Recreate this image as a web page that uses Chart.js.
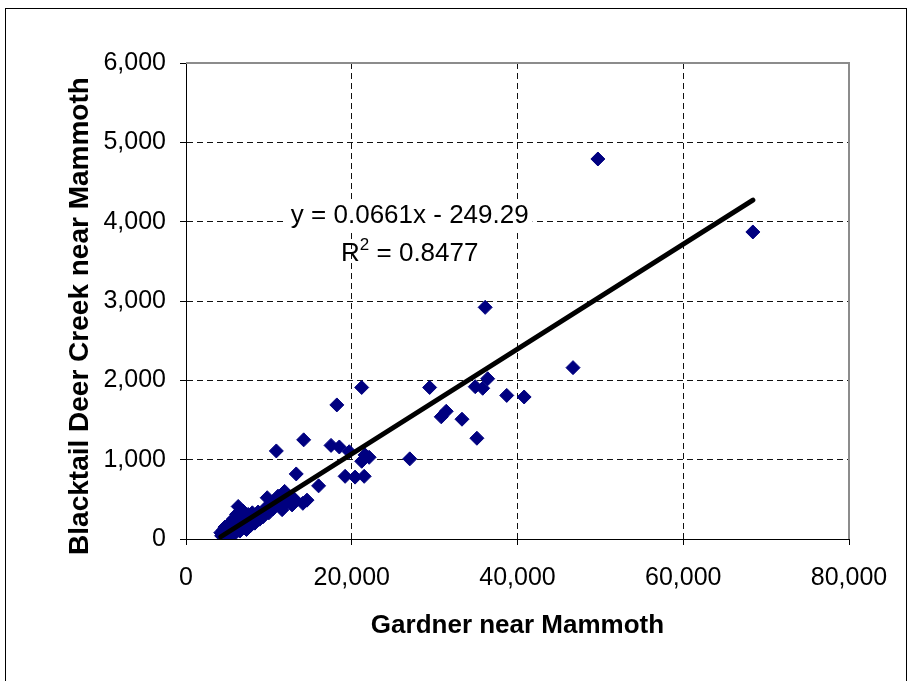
<!DOCTYPE html>
<html>
<head>
<meta charset="utf-8">
<script src="https://cdn.jsdelivr.net/npm/chart.js@4/dist/chart.umd.min.js"></script>
<style>
    body { margin: 0; background: #fff; }
    #wrap { width: 922px; height: 681px; }
</style>
</head>
<body>
<div id="wrap"><canvas id="scatter-chart" width="922" height="681"></canvas></div>
<script>
// Gardner near Mammoth (x) vs Blacktail Deer Creek near Mammoth (y)
const gardnerFlow = [
    4200, 4300, 4500, 4600, 4700, 4800, 4900, 5000, 5100, 5200,
    5300, 5400, 5500, 5600, 5700, 5800, 5900, 6000, 6100, 6200,
    6300, 6400, 6500, 6600, 6700, 6800, 6900, 7000, 7200, 7300,
    7400, 7500, 7700, 7800, 8000, 8100, 8300, 8500, 8700, 8900,
    9100, 9300, 9600, 9800, 10000, 10200, 10500, 10800, 11100, 11300,
    11600, 11900, 12200, 12500, 12800, 13100,
    10900, 13300, 14100, 14600, 14200, 16000, 17500, 18200, 18500, 19200,
    19700, 20400, 21200, 21200, 21500, 21600, 22100, 27000, 29400, 30800,
    31400, 33300, 34900, 35100, 35800, 36100, 36400, 38700, 40800, 46700,
    49700, 68400
];
const blacktailFlow = [
    80, 40, 110, 60, 150, 90, 30, 120, 180, 70,
    140, 210, 100, 170, 250, 60, 130, 200, 310, 150,
    410, 240, 100, 190, 290, 160, 350, 220, 270, 120,
    200, 310, 240, 170, 330, 260, 200, 300, 340, 250,
    310, 280, 390, 520, 330, 430, 380, 470, 540, 420,
    370, 600, 470, 530, 430, 500,
    1110, 820, 450, 490, 1250, 670, 1180, 1690, 1160, 790,
    1100, 780, 980, 1910, 790, 1060, 1030, 1010, 1910, 1540,
    1610, 1510, 1920, 1270, 1900, 2920, 2020, 1810, 1790, 2160,
    4790, 3870
];

// Excel linear trendline shown on the chart
const trendSlope = 0.0661;
const trendIntercept = -249.29;
const trendLabel = 'y = 0.0661x - 249.29';
const r2Label = '0.8477';

const xTicks = [0, 20000, 40000, 60000, 80000];
const yTicks = [0, 1000, 2000, 3000, 4000, 5000, 6000];
const yTitle = 'Blacktail Deer Creek near Mammoth';

const FONT = '"Liberation Sans", Arial, sans-serif';

const points = gardnerFlow.map((x, i) => ({ x, y: blacktailFlow[i] }));
const xMin = Math.min(...gardnerFlow);
const xMax = Math.max(...gardnerFlow);
const trendPoints = [xMin, xMax].map(x => ({ x, y: trendSlope * x + trendIntercept }));

const framePlugin = {
    id: 'frame',
    beforeDraw(chart) {
        const c = chart.ctx;
        c.save();
        c.fillStyle = '#fff';
        c.fillRect(0, 0, chart.width, chart.height);
        c.strokeStyle = '#000';
        c.lineWidth = 1;
        c.strokeRect(5.5, 8.5, 901, 700);
        c.restore();
    },
    beforeDatasetsDraw(chart) {
        const { ctx: c, chartArea: a } = chart;
        c.save();
        c.strokeStyle = '#8c8c8c';
        c.lineWidth = 2;
        c.beginPath();
        c.moveTo(a.left, a.top);
        c.lineTo(a.right, a.top);
        c.lineTo(a.right, a.bottom);
        c.stroke();
        c.restore();
    },
    afterDraw(chart) {
        const { ctx: c, scales, chartArea: a } = chart;

        // vertical axis title, a bit larger than the horizontal one
        c.save();
        c.translate(80, (a.top + a.bottom) / 2 + 15);
        c.rotate(-Math.PI / 2);
        c.font = `bold 28px ${FONT}`;
        c.fillStyle = '#000';
        c.textAlign = 'center';
        c.textBaseline = 'middle';
        c.fillText(yTitle, 0, 0);
        c.restore();

        const cx = scales.x.getPixelForValue(27000);
        const y1 = scales.y.getPixelForValue(4070);
        const y2 = scales.y.getPixelForValue(3590);
        c.save();
        c.font = `26px ${FONT}`;
        c.textBaseline = 'middle';
        const w1 = c.measureText(trendLabel).width;
        c.fillStyle = '#fff';
        c.fillRect(cx - w1 / 2 - 4, y1 - 15, w1 + 8, 30);
        c.fillStyle = '#000';
        c.textAlign = 'center';
        c.fillText(trendLabel, cx, y1);

        const rest = ' = ' + r2Label;
        const wR = c.measureText('R').width;
        c.font = `17px ${FONT}`;
        const wSup = c.measureText('2').width;
        c.font = `26px ${FONT}`;
        const wRest = c.measureText(rest).width;
        const total = wR + wSup + wRest;
        let x = cx - total / 2;
        c.textAlign = 'left';
        c.fillText('R', x, y2);
        x += wR;
        c.font = `17px ${FONT}`;
        c.fillText('2', x, y2 - 9);
        x += wSup;
        c.font = `26px ${FONT}`;
        c.fillText(rest, x, y2);
        c.restore();
    }
};

const ctx = document.getElementById('scatter-chart').getContext('2d');

new Chart(ctx, {
    type: 'scatter',
    data: {
        datasets: [
            {
                type: 'line',
                label: 'Trend',
                data: trendPoints,
                borderColor: '#000',
                borderWidth: 5,
                borderCapStyle: 'round',
                pointRadius: 0,
                fill: false,
                order: 0
            },
            {
                label: 'Flow',
                data: points,
                pointStyle: 'rectRot',
                pointRadius: 7,
                pointBackgroundColor: '#000080',
                pointBorderColor: '#000080',
                pointBorderWidth: 1,
                order: 1
            }
        ]
    },
    options: {
        responsive: false,
        animation: false,
        layout: { padding: { left: 0, top: 63, right: 73, bottom: 0 } },
        plugins: {
            legend: { display: false },
            tooltip: { enabled: false }
        },
        scales: {
            x: {
                type: 'linear',
                min: xTicks[0],
                max: xTicks[xTicks.length - 1],
                afterBuildTicks: scale => { scale.ticks = xTicks.map(value => ({ value })); },
                afterFit: scale => { scale.height = 142; },
                ticks: {
                    color: '#000',
                    padding: 18,
                    maxRotation: 0,
                    font: { family: FONT, size: 25 },
                    callback: v => v.toLocaleString('en-US')
                },
                grid: { color: '#111', tickColor: '#000', tickLength: 6, lineWidth: 1 },
                border: { color: '#000', width: 1, dash: [6, 4] },
                title: {
                    display: true,
                    text: 'Gardner near Mammoth',
                    color: '#000',
                    font: { family: FONT, size: 26, weight: 'bold' },
                    padding: { top: 0, bottom: 40 }
                }
            },
            y: {
                type: 'linear',
                min: yTicks[0],
                max: yTicks[yTicks.length - 1],
                afterBuildTicks: scale => { scale.ticks = yTicks.map(value => ({ value })); },
                afterFit: scale => { scale.width = 186; },
                ticks: {
                    color: '#000',
                    padding: 14,
                    font: { family: FONT, size: 25 },
                    callback: v => v.toLocaleString('en-US')
                },
                grid: { color: '#111', tickColor: '#000', tickLength: 6, lineWidth: 1 },
                border: { color: '#000', width: 1, dash: [6, 4] }
            }
        }
    },
    plugins: [framePlugin]
});
</script>
</body>
</html>
